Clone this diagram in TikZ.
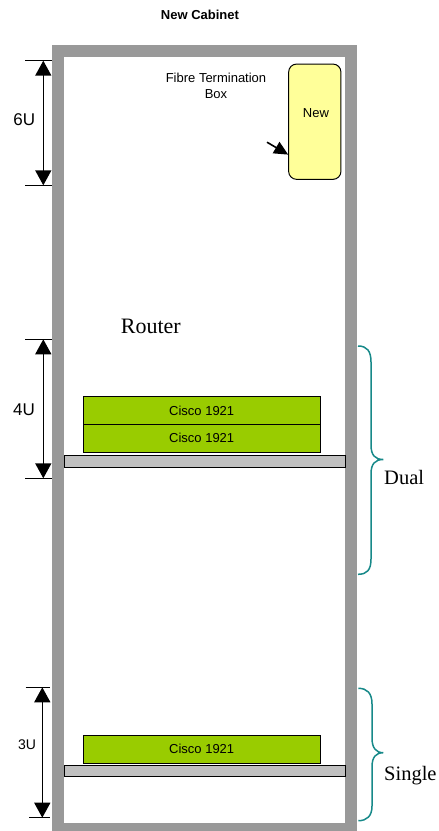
\documentclass[tikz,border=0pt]{standalone}
\usepackage{fontspec}
\setmainfont{Liberation Serif}
\newfontfamily\arialf{Liberation Sans}
\usetikzlibrary{arrows.meta}
\definecolor{framegray}{HTML}{999999}
\definecolor{shelfgray}{HTML}{C0C0C0}
\definecolor{ciscogreen}{HTML}{99CC00}
\definecolor{boxyellow}{HTML}{FFFF99}
\definecolor{braceteal}{RGB}{23,137,137}
\tikzset{
  sanslabel/.style={inner sep=0pt, font=\arialf\fontsize{13}{15.6}\selectfont},
  dimlabel/.style={inner sep=0pt, font=\arialf\fontsize{17}{20}\selectfont},
  seriflabel/.style={inner sep=0pt, font=\fontsize{20.5}{24}\selectfont},
  ciscobox/.style={draw=black, line width=1pt, fill=ciscogreen, minimum width=236.7pt, minimum height=27.8pt, inner sep=0pt, font=\arialf\fontsize{13}{15.6}\selectfont},
  shelf/.style={draw=black, line width=1pt, fill=shelfgray},
  tick/.style={line width=1.3pt},
  dimarrow/.style={line width=1.5pt, {Triangle[length=15pt,width=16pt]}-{Triangle[length=15pt,width=16pt]}},
  bracestyle/.style={draw=braceteal, line width=1.5pt},
}
\begin{document}
\begin{tikzpicture}[x=1pt,y=-1pt]
\useasboundingbox (0,0) rectangle (439,831);
% cabinet frame
\fill[framegray] (52,45) rectangle (357,840);
\fill[white] (64,57) rectangle (345,822.7);
% title
\node[sanslabel, font=\arialf\bfseries\fontsize{13}{15.6}\selectfont, anchor=base] (title) at (200,19.3) {New Cabinet};
% fibre termination box
\node[sanslabel, align=center] (fibrelabel) at (216,86) {Fibre Termination\\Box};
\node[draw=black, line width=1pt, fill=boxyellow, rounded corners=8pt, minimum width=52.3pt, minimum height=115.3pt, inner sep=0pt] (newbox) at (314.8,121.7) {};
\node[sanslabel] (newlabel) at (316,112.7) {New};
\coordinate (arrowtail) at (267,142.2);
\draw[line width=1.6pt, -{Triangle[length=14pt,width=13pt]}] (arrowtail) -- (newbox.231);
% dimension 6U
\coordinate (d6a) at (25,60.7); \coordinate (d6b) at (52,60.7);
\coordinate (d6c) at (25,185.3); \coordinate (d6d) at (52,185.3);
\coordinate (d6t) at (43.3,60.7); \coordinate (d6u) at (43.3,185.3);
\draw[tick] (d6a) -- (d6b); \draw[tick] (d6c) -- (d6d);
\draw[dimarrow] (d6t) -- (d6u);
\node[dimlabel] (six) at (24.2,119.3) {6U};
% dimension 4U
\coordinate (d4a) at (25,339.3); \coordinate (d4b) at (52,339.3);
\coordinate (d4c) at (25,478.3); \coordinate (d4d) at (52,478.3);
\coordinate (d4t) at (43.3,339.3); \coordinate (d4u) at (43.3,478.3);
\draw[tick] (d4a) -- (d4b); \draw[tick] (d4c) -- (d4d);
\draw[dimarrow] (d4t) -- (d4u);
\node[dimlabel] (four) at (24,409.3) {4U};
% dimension 3U
\coordinate (d3a) at (25.7,687.3); \coordinate (d3b) at (50,687.3);
\coordinate (d3c) at (29,817.7); \coordinate (d3d) at (50,817.7);
\coordinate (d3t) at (42.3,687.3); \coordinate (d3u) at (42.3,817.7);
\draw[tick] (d3a) -- (d3b); \draw[tick] (d3c) -- (d3d);
\draw[dimarrow] (d3t) -- (d3u);
\node[dimlabel, font=\arialf\fontsize{14}{17}\selectfont] (three) at (27,744.3) {3U};
% router
\node[seriflabel, font=\fontsize{22}{26}\selectfont, anchor=base] (router) at (150.8,333.3) {Router};
% dual routers and shelf
\node[ciscobox] (cisco1) at (201.7,410.5) {Cisco 1921};
\node[ciscobox] (cisco2) at (201.7,438.3) {Cisco 1921};
\draw[shelf] (64,455.3) rectangle (345,467);
% single router and shelf
\node[ciscobox] (cisco3) at (201.7,749.3) {Cisco 1921};
\draw[shelf] (64,765.3) rectangle (345,776.7);
% braces
\draw[bracestyle] (358,346) .. controls (367,346) and (371,351) .. (371,362) -- (371,445)
  .. controls (371,455) and (375,459.5) .. (383.3,459.5)
  .. controls (375,459.5) and (371,464) .. (371,474) -- (371,559)
  .. controls (371,570) and (367,574.3) .. (358,574.3);
\node[seriflabel, anchor=base west] (dual) at (384,484.3) {Dual};
\draw[bracestyle] (358.3,688.3) .. controls (367,688.3) and (372,693) .. (372,704) -- (372,738)
  .. controls (372,748) and (376,752.7) .. (383.3,752.7)
  .. controls (376,752.7) and (372,757) .. (372,767) -- (372,806)
  .. controls (372,816) and (367,820.7) .. (358.3,820.7);
\node[seriflabel, anchor=base west] (single) at (384,780) {Single};
\end{tikzpicture}
\end{document}
